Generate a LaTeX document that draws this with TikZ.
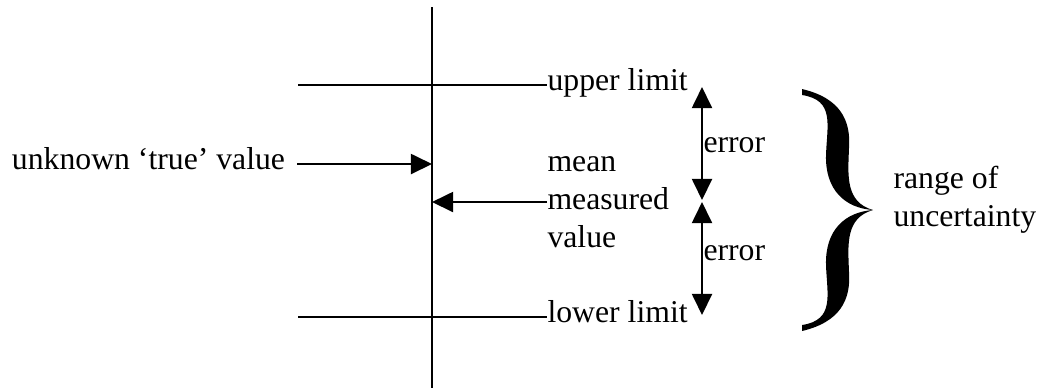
\documentclass[tikz,border=0pt]{standalone}
\usepackage{fontspec}
\setmainfont{Liberation Serif}
\usetikzlibrary{arrows.meta}

\begin{document}
\begin{tikzpicture}[x=0.3846pt, y=-0.3846pt, font=\fontsize{12.2}{14.6}\selectfont,
  lbl/.style={inner sep=0pt, align=left},
  lim/.style={line width=1.1pt},
  ax/.style={line width=0.75pt},
  arr/.style={-{Triangle[length=8.1pt, width=7.7pt]}, line width=0.75pt},
  err/.style={{Triangle[length=8.1pt, width=7.7pt]}-{Triangle[length=8.1pt, width=7.7pt]}, line width=0.75pt}
]
  \useasboundingbox (0,0) rectangle (1042,391);

  % axis
  \coordinate (axTop) at (432,7);
  \coordinate (axBot) at (432,388);
  \draw[ax] (axTop) -- (axBot);

  % limits
  \node[lbl, anchor=mid west] (upper) at (547,85) {upper limit};
  \node[lbl, anchor=mid west] (lower) at (547,317) {lower limit};
  \coordinate (upStart) at (298,85);
  \coordinate (loStart) at (298,317);
  \draw[lim] (upStart) -- (upper.mid west);
  \draw[lim] (loStart) -- (lower.mid west);

  % true value and mean
  \node[lbl, anchor=mid east, outer xsep=4.6pt] (truelab) at (297,164) {unknown ‘true’ value};
  \node[lbl, anchor=west] (mean) at (547,202) {mean\\measured\\value};
  \coordinate (hitTrue) at (432,164);
  \coordinate (hitMean) at (432,202);
  \draw[arr] (truelab.mid east) -- (hitTrue);
  \draw[arr] (mean.west) -- (hitMean);

  % error bars
  \coordinate (upTip) at (702,87);
  \coordinate (midA) at (702,200);
  \coordinate (midB) at (702,202);
  \coordinate (loTip) at (702,315);
  \draw[err] (upTip) -- (midA);
  \draw[err] (midB) -- (loTip);
  \node[lbl, anchor=mid west] (errUp) at (703,147) {error};
  \node[lbl, anchor=mid west] (errLo) at (703,255) {error};

  % brace
  \begin{scope}[shift={(0,210)}]
    \fill (873,0) .. controls (845,-8) and (848,-35) .. (849,-62)
      .. controls (851,-90) and (840,-112) .. (802,-121) -- (802,-115)
      .. controls (835,-110) and (827,-85) .. (826,-55)
      .. controls (825,-20) and (845,-2) .. (873,0)
      .. controls (845,8) and (848,35) .. (849,62)
      .. controls (851,90) and (840,112) .. (802,121) -- (802,115)
      .. controls (835,110) and (827,85) .. (826,55)
      .. controls (825,20) and (845,2) .. (873,0) -- cycle;
  \end{scope}
  \node[lbl, anchor=west] (range) at (893,200) {range of\\uncertainty};
\end{tikzpicture}
\end{document}
